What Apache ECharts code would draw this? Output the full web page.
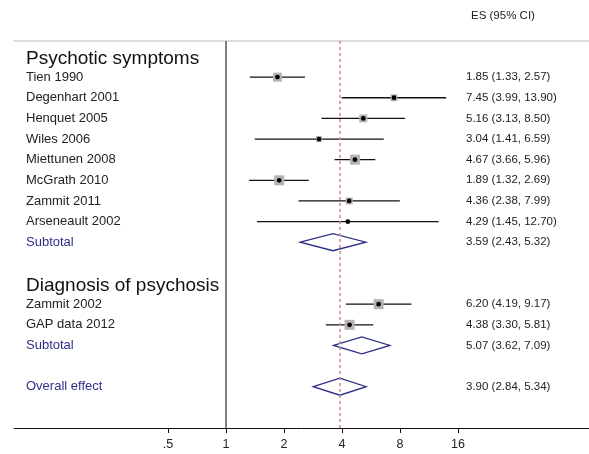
<!DOCTYPE html>
<html lang="en">
<head>
  <meta charset="UTF-8">
  <title>Forest plot</title>
  <script src="https://cdn.jsdelivr.net/npm/echarts@6/dist/echarts.min.js"></script>
  <style>
    html, body { margin:0; padding:0; background:#fff; }
    #main { width:589px; height:454px; }
  </style>
</head>
<body>
<div id="main"></div>
<script>
    // rows, top to bottom
    var rowLabels = ['Psychotic symptoms','Tien 1990','Degenhart 2001','Henquet 2005','Wiles 2006','Miettunen 2008',
                     'McGrath 2010','Zammit 2011','Arseneault 2002','Subtotal','',
                     'Diagnosis of psychosis','Zammit 2002','GAP data 2012','Subtotal','','Overall effect'];
    var rowKind = ['head','study','study','study','study','study','study','study','study','pooled','gap',
                   'head','study','study','pooled','gap','pooled'];
    var es = [null,1.85,7.45,5.16,3.04,4.67,1.89,4.36,4.29,3.59,null,null,6.20,4.38,5.07,null,3.90];
    var lo = [null,1.33,3.99,3.13,1.41,3.66,1.32,2.38,1.45,2.43,null,null,4.19,3.30,3.62,null,2.84];
    var hi = [null,2.57,13.90,8.50,6.59,5.96,2.69,7.99,12.70,5.32,null,null,9.17,5.81,7.09,null,5.34];
    // weight box sizes (px)
    var boxSize = [0,9,7,8,6,10,10,7,4,0,0,0,10,10,0,0,0];
    var xTicks = [0.5,1,2,4,8,16];
    var overallES = 3.90;

    var navy = '#2e3088';
    var chart = echarts.init(document.getElementById('main'));

    function fmt(i){
      return es[i].toFixed(2) + ' (' + lo[i].toFixed(2) + ', ' + hi[i].toFixed(2) + ')';
    }

    function renderRow(params, api){
      var i = params.dataIndex;
      var y = api.coord([1, i])[1];
      var kids = [];
      var kind = rowKind[i];
      if (kind === 'head') {
        kids.push({type:'text', style:{x:26, y:y+2, text:rowLabels[i], fill:'#111', align:'left', verticalAlign:'middle',
          font:'19px "Liberation Sans", Arial, sans-serif'}});
      } else if (kind === 'study' || kind === 'pooled') {
        kids.push({type:'text', style:{x:26, y:y, text:rowLabels[i], fill: kind === 'pooled' ? navy : '#222',
          align:'left', verticalAlign:'middle', font:'13px "Liberation Sans", Arial, sans-serif'}});
        kids.push({type:'text', style:{x:466, y:y, text:fmt(i), fill:'#222',
          align:'left', verticalAlign:'middle', font:'11.5px "Liberation Sans", Arial, sans-serif'}});
        var pl = api.coord([lo[i], i]), pe = api.coord([es[i], i]), ph = api.coord([hi[i], i]);
        if (kind === 'study') {
          var s = boxSize[i];
          kids.push({type:'line', shape:{x1:pl[0], y1:y, x2:ph[0], y2:y}, style:{stroke:'#111', lineWidth:1.3}});
          kids.push({type:'rect', shape:{x:pe[0]-s/2, y:y-s/2, width:s, height:s}, style:{fill:'#b4b4b4'}});
          kids.push({type:'circle', shape:{cx:pe[0], cy:y, r:2.4}, style:{fill:'#000'}});
        } else {
          var h = 8.5;
          kids.push({type:'polygon', shape:{points:[[pl[0], y],[pe[0], y-h],[ph[0], y],[pe[0], y+h]]},
            style:{fill:'none', stroke:navy, lineWidth:1.3}});
        }
      }
      return {type:'group', children:kids};
    }

    chart.setOption({
      animation:false,
      title:{text:'ES (95% CI)', left:466, top:5,
        textStyle:{fontSize:11.5, fontWeight:'normal', color:'#222', fontFamily:'Liberation Sans'}},
      grid:{left:14, right:0, top:41, bottom:26},
      xAxis:[{
        type:'log', logBase:2, min:0.0794, max:76.6, position:'bottom',
        axisLine:{onZero:false, lineStyle:{color:'#111', width:1}},
        axisTick:{customValues:xTicks, length:5, lineStyle:{color:'#111'}},
        axisLabel:{customValues:xTicks, color:'#222', fontSize:12.5, margin:10, fontFamily:'Liberation Sans',
          formatter:function(v){ return v === 0.5 ? '.5' : String(v); }},
        splitLine:{show:false}
      },{
        type:'log', logBase:2, min:0.0794, max:76.6, position:'top',
        axisLine:{onZero:false, lineStyle:{color:'#dddddd', width:2}},
        axisTick:{show:false}, axisLabel:{show:false}, splitLine:{show:false}
      }],
      yAxis:{type:'value', inverse:true, min:-0.75, max:18, show:false},
      series:[{
        type:'custom',
        renderItem:renderRow,
        encode:{x:0, y:1},
        data:rowLabels.map(function(_, i){ return [es[i] || 1, i]; }),
        z:3,
        markLine:{
          silent:true, symbol:'none', label:{show:false},
          data:[
            {xAxis:1, lineStyle:{color:'#555', width:1.5, type:'solid'}},
            {xAxis:overallES, lineStyle:{color:'#d08888', width:1.5, type:[3,3]}}
          ]
        }
      }]
    });
</script>
</body>
</html>
